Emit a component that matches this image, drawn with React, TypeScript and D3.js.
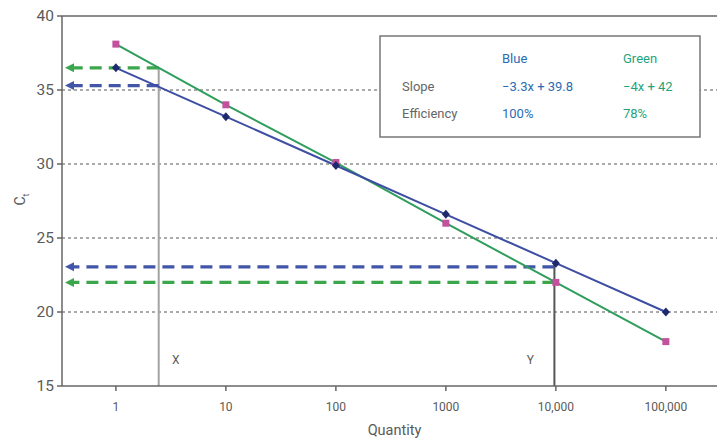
import React from "react";
import * as d3 from "d3";

const quantities = [1, 10, 100, 1000, 10000, 100000];
const blueCt = [36.5, 33.2, 29.9, 26.6, 23.3, 20.0];
const greenCt = [38.1, 34.0, 30.1, 26.0, 22.0, 18.0];
const yTicks = [15, 20, 25, 30, 35, 40];
const gridTicks = [20, 25, 30, 35];
const xTickLabels = ["1", "10", "100", "1000", "10,000", "100,000"];
const markerX = 2.45;
const markerXBlueCt = 35.3;
const markerXGreenCt = 36.5;
const markerY = 9700;
const markerYBlueCt = 23.05;
const markerYGreenCt = 22.0;

const W = 717, H = 441;
const L = 62, R = 717, T = 16, B = 386;
const FONT = "Roboto, 'DejaVu Sans', sans-serif";

export default function App() {
  const x = d3.scaleLog().domain([Math.pow(10, -0.49), Math.pow(10, 5.465)]).range([L, R]);
  const y = d3.scaleLinear().domain([15, 40]).range([B, T]);
  const line = d3.line<[number, number]>().x(d => x(d[0])).y(d => y(d[1]));
  const bluePts = quantities.map((q, i) => [q, blueCt[i]] as [number, number]);
  const greenPts = quantities.map((q, i) => [q, greenCt[i]] as [number, number]);

  const blueC = "#3d4ea3";
  const greenC = "#2f9e5c";
  const dashBlue = "#4256a8";
  const dashGreen = "#3ba64c";

  const arrow = (x1: number, yy: number, color: string, key: string) => {
    const ax = L + 3;
    return (
      <g key={key}>
        <line x1={x1} x2={ax + 8} y1={yy} y2={yy} stroke={color} strokeWidth={3.2} strokeDasharray="12 7" />
        <path d={`M${ax},${yy} L${ax + 9},${yy - 4.5} L${ax + 9},${yy + 4.5} Z`} fill={color} />
      </g>
    );
  };

  return (
    <svg width={W} height={H} style={{ position: "absolute", left: 0, top: 0, background: "#fff" }} fontFamily={FONT}>
      <rect x={0} y={0} width={W} height={H} fill="#fff" />
      {gridTicks.map(t => (
        <line key={"g" + t} x1={L} x2={R} y1={y(t)} y2={y(t)} stroke="#555" strokeWidth={1} strokeDasharray="3 3" />
      ))}
      <line x1={L} x2={R} y1={T} y2={T} stroke="#666" strokeWidth={1.5} />
      <line x1={x(markerX)} x2={x(markerX)} y1={y(markerXGreenCt)} y2={B} stroke="#a3a3a3" strokeWidth={2} />
      <line x1={x(markerY)} x2={x(markerY)} y1={y(23.4)} y2={B} stroke="#555" strokeWidth={2} />
      {arrow(x(markerX), y(markerXGreenCt), dashGreen, "a1")}
      {arrow(x(markerX), y(markerXBlueCt), dashBlue, "a2")}
      {arrow(x(markerY), y(markerYBlueCt), dashBlue, "a3")}
      {arrow(x(markerY), y(markerYGreenCt), dashGreen, "a4")}
      <path d={line(greenPts) || ""} fill="none" stroke={greenC} strokeWidth={2} />
      <path d={line(bluePts) || ""} fill="none" stroke={blueC} strokeWidth={2} />
      {greenPts.map((p, i) => (
        <rect key={"gs" + i} x={x(p[0]) - 3.5} y={y(p[1]) - 3.5} width={7} height={7} fill="#c4519e" />
      ))}
      {bluePts.map((p, i) => (
        <path key={"bd" + i} d={`M${x(p[0])},${y(p[1]) - 4.5} L${x(p[0]) + 4},${y(p[1])} L${x(p[0])},${y(p[1]) + 4.5} L${x(p[0]) - 4},${y(p[1])} Z`} fill="#1f2a6e" />
      ))}
      <line x1={L} x2={L} y1={T} y2={B} stroke="#666" strokeWidth={1.5} />
      <line x1={L} x2={R} y1={B} y2={B} stroke="#666" strokeWidth={1.5} />
      {yTicks.map(t => (
        <g key={"yt" + t}>
          <line x1={L - 5} x2={L} y1={y(t)} y2={y(t)} stroke="#666" strokeWidth={1.5} />
          <text x={L - 8} y={y(t)} dy="0.35em" textAnchor="end" fontSize={15.5} fill="#5a5a5a">{t}</text>
        </g>
      ))}
      {quantities.map((q, i) => (
        <g key={"xt" + q}>
          <line x1={x(q)} x2={x(q)} y1={B} y2={B + 5} stroke="#666" strokeWidth={1.5} />
          <text x={x(q)} y={B + 25} textAnchor="middle" fontSize={12} fill="#5a5a5a">{xTickLabels[i]}</text>
        </g>
      ))}
      <text x={(L + R) / 2 + 5} y={435} textAnchor="middle" fontSize={14.5} fill="#5a5a5a">Quantity</text>
      <text transform={`translate(25,${y(27.6)}) rotate(-90)`} textAnchor="middle" fontSize={14} fill="#5a5a5a">
        C<tspan fontSize={9} dy={4}>t</tspan>
      </text>
      <text x={x(markerX) + 17} y={364} fontSize={12} fill="#5a5a5a" textAnchor="middle">X</text>
      <text x={x(markerY) - 24} y={364} fontSize={12} fill="#5a5a5a" textAnchor="middle">Y</text>
      <rect x={380} y={36} width={320} height={101} fill="#fff" stroke="#777" strokeWidth={1.5} />
      <g fontSize={13}>
        <text x={502} y={63} fill="#2a6db5">Blue</text>
        <text x={623} y={63} fill="#1fa37a">Green</text>
        <text x={402} y={91} fill="#666">Slope</text>
        <text x={502} y={91} fill="#2a6db5">−3.3x + 39.8</text>
        <text x={623} y={91} fill="#1fa37a">−4x + 42</text>
        <text x={402} y={118} fill="#666">Efficiency</text>
        <text x={502} y={118} fill="#2a6db5">100%</text>
        <text x={623} y={118} fill="#1fa37a">78%</text>
      </g>
    </svg>
  );
}
